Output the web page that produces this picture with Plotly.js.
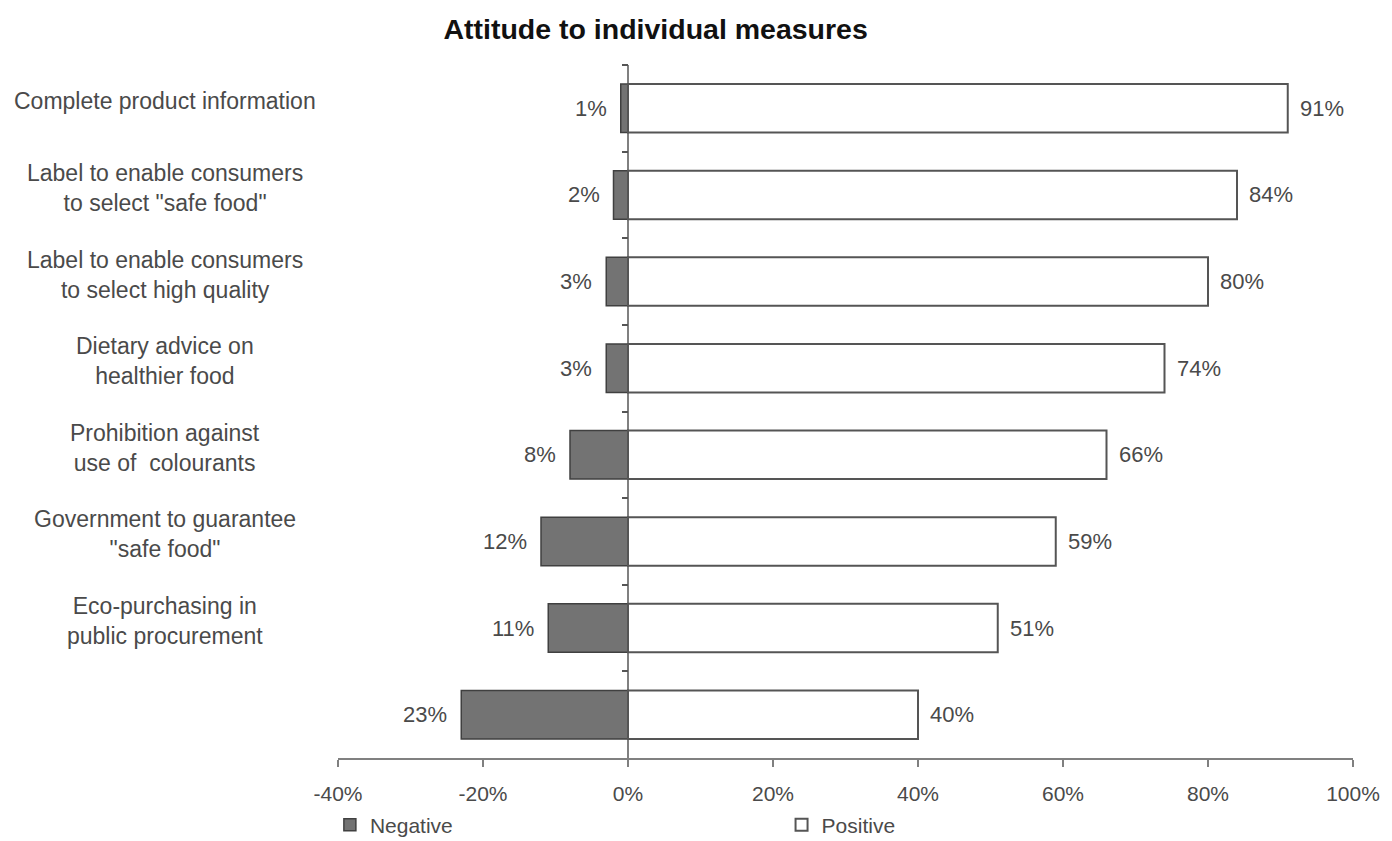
<!DOCTYPE html>
<html>
<head>
<meta charset="utf-8">
<script src="https://cdn.plot.ly/plotly-3.0.1.min.js"></script>
<style>html,body{margin:0;padding:0;background:#fff;}#chart{width:1392px;height:841px;}</style>
</head>
<body>
<div id="chart"></div>
<script>
// ---- data ----
const categories = [
  "Complete product information",
  "Label to enable consumers<br>to select \"safe food\"",
  "Label to enable consumers<br>to select high quality",
  "Dietary advice on<br>healthier food",
  "Prohibition against<br>use of  colourants",
  "Government to guarantee<br>\"safe food\"",
  "Eco-purchasing in<br>public procurement",
  "(unlabelled)"
];
const tickLabels = [
  "Complete product information",
  "Label to enable consumers<br>to select \"safe food\"",
  "Label to enable consumers<br>to select high quality",
  "Dietary advice on<br>healthier food",
  "Prohibition against<br>use of  colourants",
  "Government to guarantee<br>\"safe food\"",
  "Eco-purchasing in<br>public procurement",
  ""
];
const negative = [1, 2, 3, 3, 8, 12, 11, 23];
const positive = [91, 84, 80, 74, 66, 59, 51, 40];
const xTickVals = [-40, -20, 0, 20, 40, 60, 80, 100];

// ---- styles ----
const txtColor = '#4a4a4a';
const axisColor = '#808080';
const fontFam = 'Liberation Sans, Arial, sans-serif';

const traces = [
  {
    type: 'bar', orientation: 'h', name: 'Negative',
    y: categories, x: negative.map(v => -v),
    marker: {color: '#737373', line: {color: '#404040', width: 1.5}},
    legend: 'legend', hoverinfo: 'skip'
  },
  {
    type: 'bar', orientation: 'h', name: 'Positive',
    y: categories, x: positive,
    marker: {color: '#ffffff', line: {color: '#555555', width: 2}},
    legend: 'legend2', hoverinfo: 'skip'
  },
  {
    type: 'scatter', mode: 'markers', y: categories, x: categories.map(() => 0),
    yaxis: 'y2', marker: {opacity: 0}, showlegend: false, hoverinfo: 'skip'
  }
];

const annotations = [];
categories.forEach((c, i) => {
  annotations.push({
    x: -0.17, xref: 'paper', y: c, yref: 'y', text: tickLabels[i],
    showarrow: false, xanchor: 'center', yanchor: 'middle', align: 'center',
    yshift: 7,
    font: {family: fontFam, size: 23, color: txtColor}
  });
  annotations.push({
    x: -negative[i], y: c, xref: 'x', yref: 'y', text: negative[i] + '%',
    showarrow: false, xanchor: 'right', yanchor: 'middle', xshift: -12,
    font: {family: fontFam, size: 22, color: txtColor}
  });
  annotations.push({
    x: positive[i], y: c, xref: 'x', yref: 'y', text: positive[i] + '%',
    showarrow: false, xanchor: 'left', yanchor: 'middle', xshift: 10,
    font: {family: fontFam, size: 22, color: txtColor}
  });
});

const layout = {
  width: 1392, height: 841,
  paper_bgcolor: '#ffffff', plot_bgcolor: '#ffffff',
  margin: {l: 338, r: 39, t: 65, b: 83, autoexpand: false},
  title: {
    text: '<b>Attitude to individual measures</b>',
    x: 0.471, xref: 'container', xanchor: 'center',
    y: 0.965, yref: 'container', yanchor: 'middle',
    font: {family: fontFam, size: 28.5, color: '#111111'}
  },
  barmode: 'relative', bargap: 0.44,
  xaxis: {
    range: [-40, 100], tickvals: xTickVals, ticktext: xTickVals.map(v => v + '%'),
    showgrid: false, zeroline: true, zerolinecolor: axisColor, zerolinewidth: 2,
    showline: true, linecolor: axisColor, linewidth: 2,
    ticks: 'outside', ticklen: 7, tickcolor: axisColor, tickwidth: 2,
    ticklabelstandoff: 9,
    tickfont: {family: fontFam, size: 21, color: txtColor},
    fixedrange: true
  },
  yaxis: {
    type: 'category', categoryorder: 'array', categoryarray: categories,
    range: [7.5, -0.5], showticklabels: false, showgrid: false,
    showline: false, ticks: '', zeroline: false, fixedrange: true
  },
  yaxis2: {
    type: 'category', categoryorder: 'array', categoryarray: categories,
    overlaying: 'y', anchor: 'free', position: 40 / 140, side: 'left',
    range: [7.5, -0.5], showticklabels: false, showgrid: false,
    showline: false, ticks: 'outside', tickson: 'boundaries', ticklen: 6,
    tickcolor: '#555555', tickwidth: 2, zeroline: false, fixedrange: true
  },
  legend: {
    x: -0.008, y: -0.097, xanchor: 'left', yanchor: 'middle', orientation: 'h',
    font: {family: fontFam, size: 21, color: txtColor},
    itemwidth: 30, bgcolor: 'rgba(0,0,0,0)'
  },
  legend2: {
    x: 0.437, y: -0.097, xanchor: 'left', yanchor: 'middle', orientation: 'h',
    font: {family: fontFam, size: 21, color: txtColor},
    itemwidth: 30, bgcolor: 'rgba(0,0,0,0)'
  },
  annotations: annotations,
  showlegend: true
};

Plotly.newPlot('chart', traces, layout, {displayModeBar: false, staticPlot: true});
</script>
</body>
</html>
